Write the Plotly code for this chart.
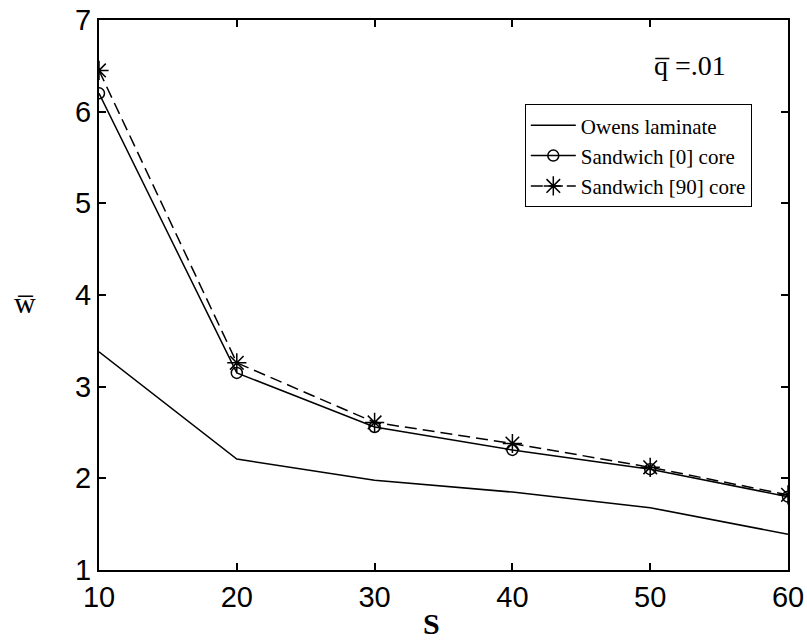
import plotly.graph_objects as go

# Span ratio S and normalised deflection w̄ for three plate constructions
s_values = [10, 20, 30, 40, 50, 60]
owens_laminate = [3.38, 2.21, 1.98, 1.85, 1.68, 1.39]
sandwich_0_core = [6.20, 3.15, 2.56, 2.31, 2.10, 1.80]
sandwich_90_core = [6.45, 3.26, 2.61, 2.38, 2.12, 1.82]

x_ticks = [10, 20, 30, 40, 50, 60]
y_ticks = [1, 2, 3, 4, 5, 6, 7]

SERIF = "Liberation Serif"
SANS = "Liberation Sans"

fig = go.Figure()

fig.add_trace(go.Scatter(
    x=s_values, y=owens_laminate, name="Owens laminate",
    mode="lines", line=dict(color="black", width=1.5),
))
fig.add_trace(go.Scatter(
    x=s_values, y=sandwich_0_core, name="Sandwich [0] core",
    mode="lines+markers", line=dict(color="black", width=1.5),
    marker=dict(symbol="circle-open", size=11, color="black",
                line=dict(width=1.5, color="black")),
))
fig.add_trace(go.Scatter(
    x=s_values, y=sandwich_90_core, name="Sandwich [90] core",
    mode="lines+markers", line=dict(color="black", width=1.5, dash="12px,6px"),
    marker=dict(symbol="asterisk-open", size=16, color="black",
                line=dict(width=1.5, color="black")),
))

axis_common = dict(
    showline=True, linecolor="black", linewidth=2, mirror="ticks",
    ticks="inside", ticklen=7, tickwidth=1.5, tickcolor="black",
    showgrid=False, zeroline=False, automargin=False,
    tickfont=dict(family=SANS, size=29, color="black"),
)

fig.update_xaxes(range=[10, 60], tickvals=x_ticks,
                 ticktext=[str(v) for v in x_ticks], **axis_common)
fig.update_yaxes(range=[1, 7], tickvals=y_ticks,
                 ticktext=[str(v) for v in y_ticks], **axis_common)

fig.update_layout(
    width=807, height=642,
    margin=dict(l=99, r=19, t=20, b=72, autoexpand=False),
    paper_bgcolor="white", plot_bgcolor="white",
    font=dict(family=SERIF, color="black"),
    showlegend=True,
    legend=dict(
        x=0.618, y=0.847, xanchor="left", yanchor="top",
        bgcolor="white", bordercolor="black", borderwidth=1,
        font=dict(family=SERIF, size=21, color="black"),
        itemwidth=45, tracegroupgap=0,
    ),
    annotations=[
        dict(text="S", xref="paper", yref="paper", x=0.483, y=-0.098,
             xanchor="center", yanchor="middle", showarrow=False,
             font=dict(family=SERIF, size=30, color="black", weight="bold")),
        dict(text="w\u0305", xref="paper", yref="paper", x=-0.107, y=0.487,
             xanchor="center", yanchor="middle", showarrow=False,
             font=dict(family=SERIF, size=30, color="black")),
        dict(text="q\u0305 =.01", xref="paper", yref="paper", x=0.858, y=0.918,
             xanchor="center", yanchor="middle", showarrow=False,
             font=dict(family=SERIF, size=28, color="black")),
    ],
)

fig.write_html("out.html")
